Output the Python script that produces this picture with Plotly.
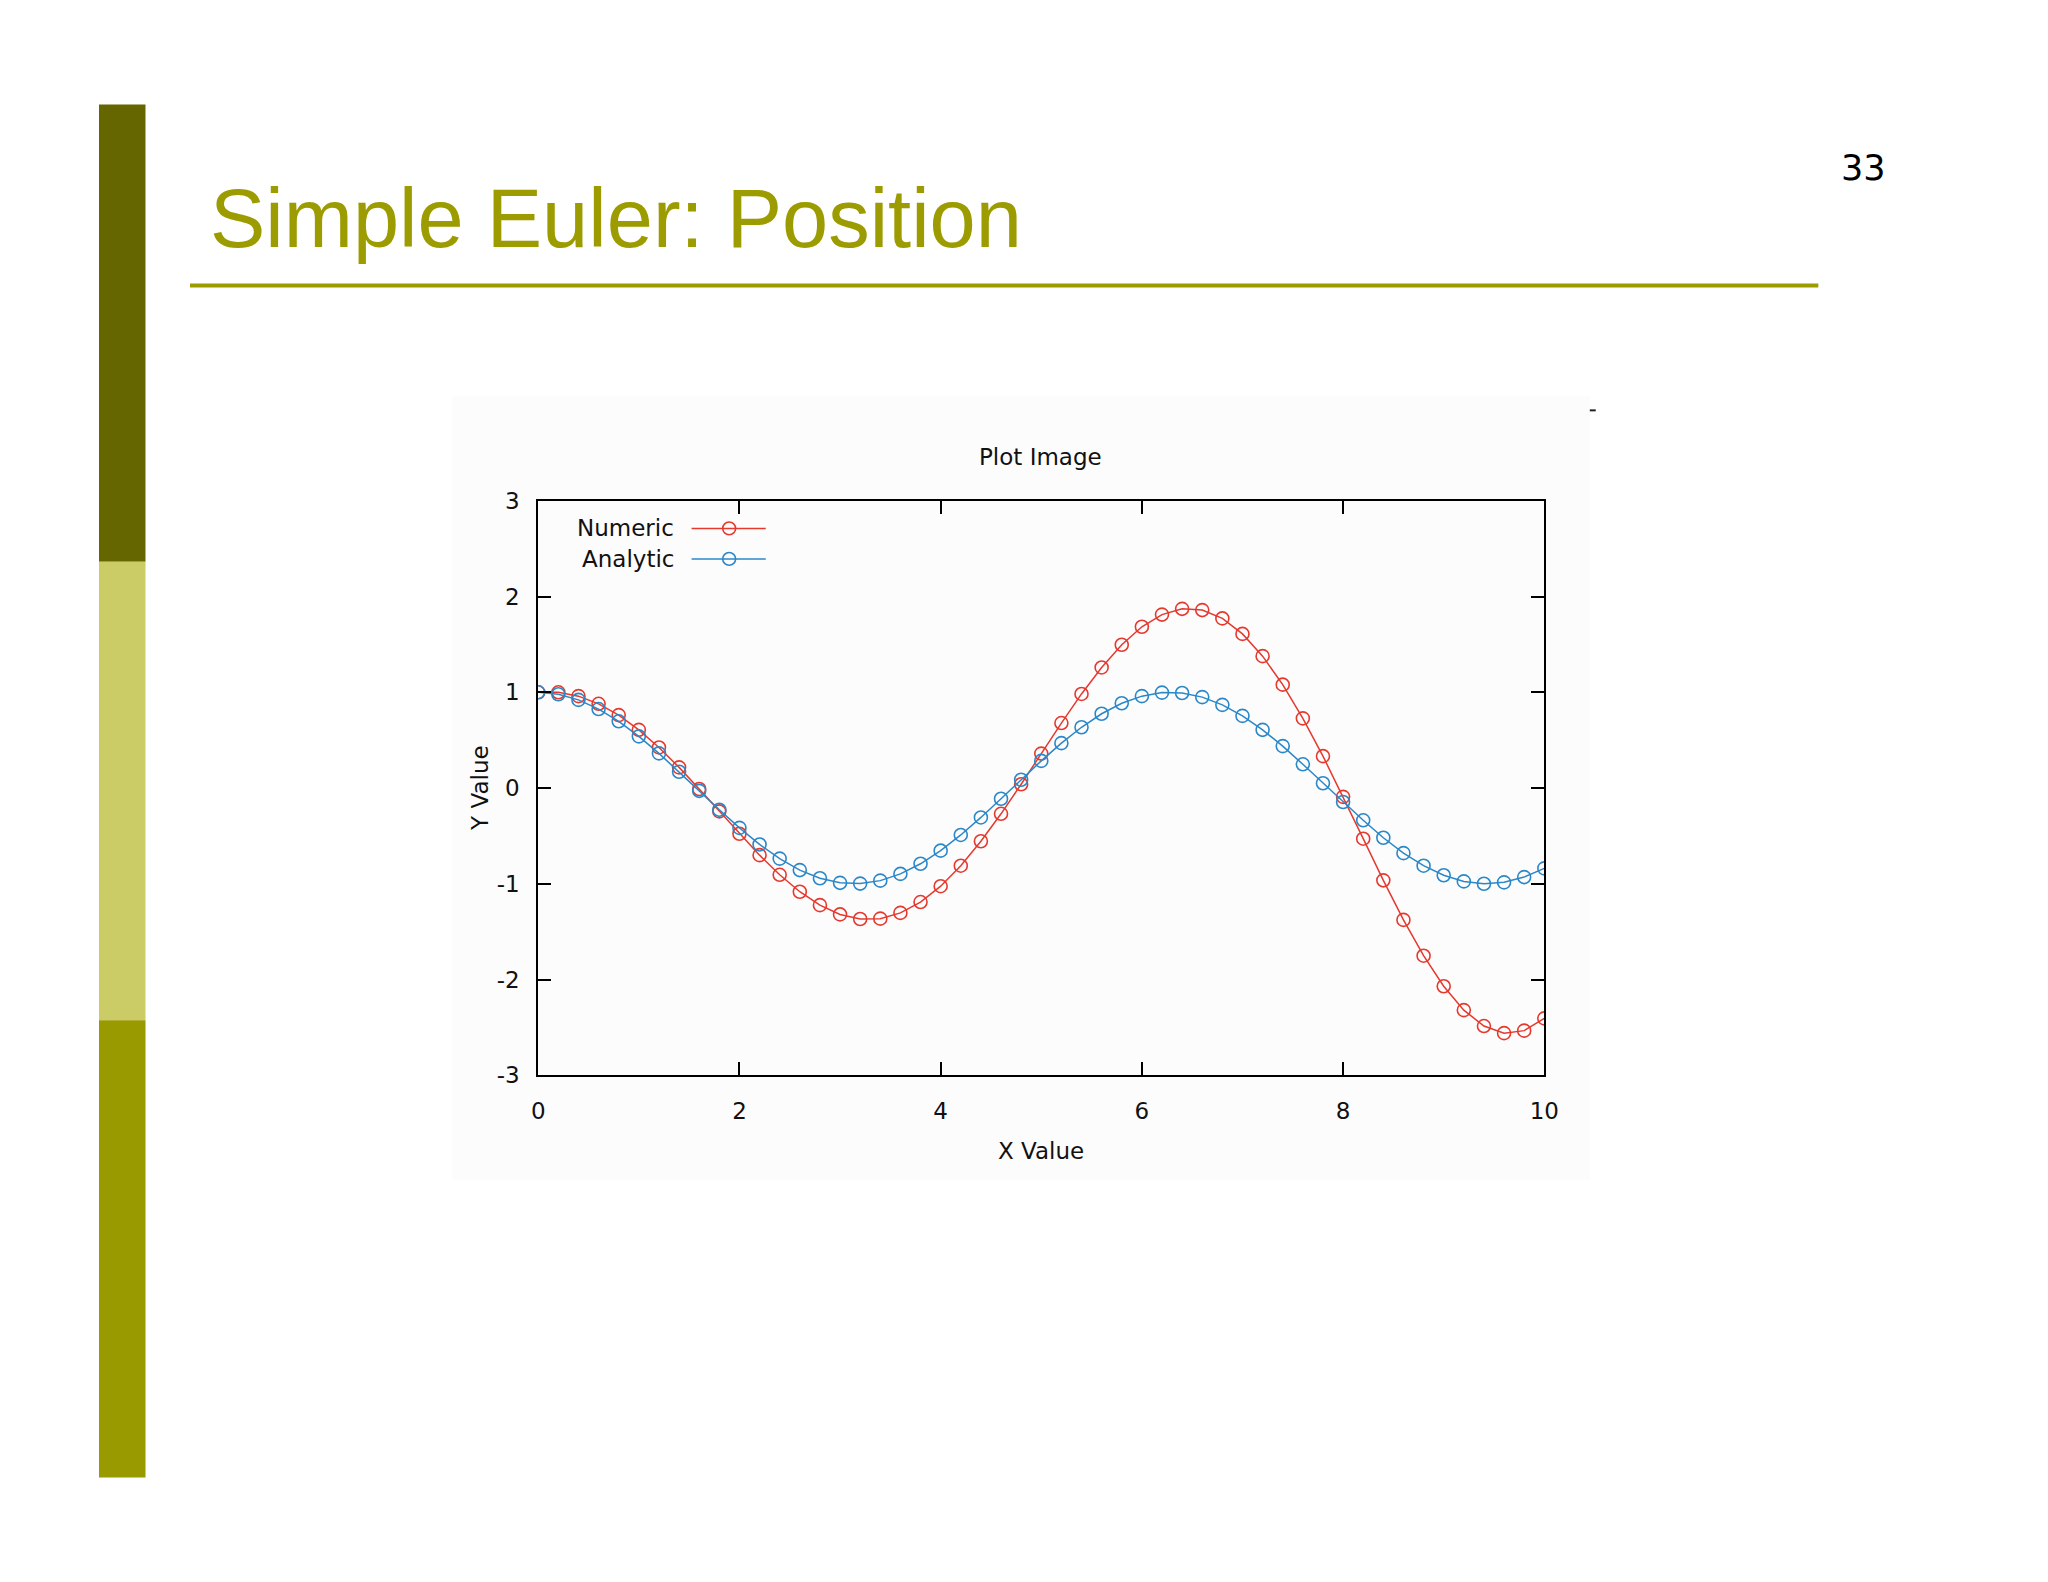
import plotly.graph_objects as go

# ---- data ----
x_vals = [0.0, 0.2, 0.4, 0.6, 0.8, 1.0, 1.2, 1.4, 1.6, 1.8, 2.0, 2.2, 2.4, 2.6, 2.8, 3.0, 3.2,
          3.4, 3.6, 3.8, 4.0, 4.2, 4.4, 4.6, 4.8, 5.0, 5.2, 5.4, 5.6, 5.8, 6.0, 6.2, 6.4, 6.6,
          6.8, 7.0, 7.2, 7.4, 7.6, 7.8, 8.0, 8.2, 8.4, 8.6, 8.8, 9.0, 9.2, 9.4, 9.6, 9.8, 10.0]
numeric = [1.000, 1.000, 0.960, 0.880, 0.762, 0.608, 0.424, 0.216, -0.010, -0.244, -0.477,
           -0.701, -0.906, -1.083, -1.223, -1.320, -1.368, -1.364, -1.304, -1.191, -1.025,
           -0.811, -0.556, -0.269, 0.040, 0.360, 0.679, 0.983, 1.260, 1.497, 1.685, 1.812,
           1.872, 1.859, 1.772, 1.610, 1.378, 1.080, 0.728, 0.333, -0.092, -0.529, -0.964,
           -1.377, -1.751, -2.070, -2.320, -2.486, -2.560, -2.534, -2.406]
analytic = [1.000, 0.980, 0.921, 0.825, 0.697, 0.540, 0.362, 0.170, -0.029, -0.227, -0.416,
            -0.589, -0.737, -0.857, -0.942, -0.990, -0.998, -0.967, -0.897, -0.791, -0.654,
            -0.490, -0.307, -0.112, 0.087, 0.284, 0.469, 0.635, 0.776, 0.886, 0.960, 0.997,
            0.993, 0.950, 0.869, 0.754, 0.608, 0.438, 0.248, 0.050, -0.146, -0.337, -0.519,
            -0.680, -0.811, -0.911, -0.975, -1.000, -0.985, -0.930, -0.839]
series_names = ["Numeric", "Analytic"]
x_ticks = [0, 2, 4, 6, 8, 10]
y_ticks = [-3, -2, -1, 0, 1, 2, 3]
y_tick_text = ["-3", "-2", "-1", "0", "1", "2", "3"]

W, H = 2048, 1582
RED = "#e5392e"
BLUE = "#2a88c8"
OLIVE = "#9c9c00"
FONT = "DejaVu Sans"

# plot area in pixels
PL, PR, PT, PB = 537, 1554, 496, 1080


def px(x):
    return x / W


def py(y):
    return 1 - y / H


fig = go.Figure()
fig.add_trace(go.Scatter(x=x_vals, y=numeric, name=series_names[0], mode="lines+markers",
                         line=dict(color=RED, width=1.5),
                         marker=dict(symbol="circle-open", size=13, color=RED, line=dict(width=1.6))))
fig.add_trace(go.Scatter(x=x_vals, y=analytic, name=series_names[1], mode="lines+markers",
                         line=dict(color=BLUE, width=1.5),
                         marker=dict(symbol="circle-open", size=13, color=BLUE, line=dict(width=1.6))))

axis_common = dict(showline=True, linecolor="black", linewidth=2, mirror="ticks",
                   ticks="inside", ticklen=13, tickwidth=1.5, tickcolor="black",
                   showgrid=False, zeroline=False,
                   tickfont=dict(family=FONT, size=23, color="#111111"))

fig.update_xaxes(range=[0, 10], domain=[px(PL), px(PR)], tickvals=x_ticks,
                 ticktext=[str(t) for t in x_ticks], ticklabelstandoff=14, **axis_common)
fig.update_yaxes(range=[-3, 3], domain=[py(PB), py(PT)], tickvals=y_ticks,
                 ticktext=y_tick_text, ticklabelstandoff=12, **axis_common)

shapes = []
# left decorative bar
for y0, y1, col in [(93, 558, "#666600"), (558, 1024, "#cccc66"), (1024, 1489, "#999900")]:
    shapes.append(dict(type="rect", xref="paper", yref="paper", x0=px(93), x1=px(140),
                       y0=py(y1), y1=py(y0), fillcolor=col, line=dict(width=0), layer="below"))
# faint chart image background
shapes.append(dict(type="rect", xref="paper", yref="paper", x0=px(450), x1=px(1600),
                   y0=py(1186), y1=py(390), fillcolor="#fdfcfd", line=dict(width=0), layer="below"))
# title underline
shapes.append(dict(type="line", xref="paper", yref="paper", x0=px(185), x1=px(1831),
                   y0=py(277), y1=py(277), line=dict(color=OLIVE, width=4)))
# small dash artifact
shapes.append(dict(type="line", xref="paper", yref="paper", x0=px(1600), x1=px(1606),
                   y0=py(404), y1=py(404), line=dict(color="#222222", width=2)))

# legend samples
legend_rows = [(524, RED), (555, BLUE)]
for (ly, col), name in zip(legend_rows, series_names):
    shapes.append(dict(type="line", xref="paper", yref="paper", x0=px(692), x1=px(767),
                       y0=py(ly), y1=py(ly), line=dict(color=col, width=1.5)))
    r = 6.5
    shapes.append(dict(type="circle", xref="paper", yref="paper", x0=px(730 - r), x1=px(730 + r),
                       y0=py(ly + r), y1=py(ly - r), line=dict(color=col, width=1.6),
                       fillcolor="rgba(0,0,0,0)"))

annotations = [
    dict(text="Simple Euler: Position", x=px(203), y=py(209), xanchor="left", yanchor="middle",
         font=dict(family="Liberation Sans", size=83, color=OLIVE)),
    dict(text="33", x=px(1877), y=py(158), xanchor="center", yanchor="middle",
         font=dict(family=FONT, size=35, color="black")),
    dict(text="Plot Image", x=px(1045), y=py(451), xanchor="center", yanchor="middle",
         font=dict(family=FONT, size=23, color="#111111")),
    dict(text="X Value", x=px(1045), y=py(1157), xanchor="center", yanchor="middle",
         font=dict(family=FONT, size=23, color="#111111")),
    dict(text="Y Value", x=px(478), y=py(788), xanchor="center", yanchor="middle", textangle=-90,
         font=dict(family=FONT, size=23, color="#111111")),
]
for (ly, col), name in zip(legend_rows, series_names):
    annotations.append(dict(text=name, x=px(676), y=py(ly), xanchor="right", yanchor="middle",
                            font=dict(family=FONT, size=23, color="#111111")))
for a in annotations:
    a.update(xref="paper", yref="paper", showarrow=False)

fig.update_layout(width=W, height=H, autosize=False, margin=dict(l=0, r=0, t=0, b=0),
                  paper_bgcolor="white", plot_bgcolor="rgba(0,0,0,0)", showlegend=False,
                  shapes=shapes, annotations=annotations)

fig.write_html("out.html", config={"displayModeBar": False},
               post_script="document.body.style.margin='0';document.body.style.overflow='hidden';")
